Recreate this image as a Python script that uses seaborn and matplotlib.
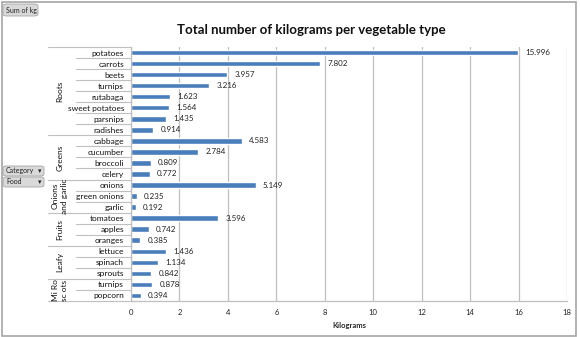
import matplotlib
matplotlib.use("Agg")
import matplotlib.pyplot as plt
import seaborn as sns
import pandas as pd
from matplotlib.patches import Rectangle, FancyBboxPatch
import matplotlib.transforms as mtransforms

groups = ["Roots", "Greens", "Onions\nand garlic", "Fruits", "Leafy", "Mi Ro\nsc ots"]
group_sizes = [8, 4, 3, 3, 3, 2]
foods = ["potatoes", "carrots", "beets", "turnips", "rutabaga", "sweet potatoes", "parsnips", "radishes",
         "cabbage", "cucumber", "broccoli", "celery",
         "onions", "green onions", "garlic",
         "tomatoes", "apples", "oranges",
         "lettuce", "spinach", "sprouts",
         "turnips", "popcorn"]
kg = [15.996, 7.802, 3.957, 3.216, 1.623, 1.564, 1.435, 0.914,
      4.583, 2.784, 0.809, 0.772,
      5.149, 0.235, 0.192,
      3.596, 0.742, 0.385,
      1.436, 1.134, 0.842,
      0.878, 0.394]
x_ticks = [0, 2, 4, 6, 8, 10, 12, 14, 16, 18]

sns.set_style("white")
plt.rcParams["font.family"] = ["Lato", "DejaVu Sans"]

W, H = 580, 337
fig = plt.figure(figsize=(W / 100, H / 100), dpi=100)
ax = fig.add_axes([131 / W, 1 - 301 / H, (567 - 131) / W, (301 - 47) / H])

keys = [f"{i}" for i in range(len(foods))]
df = pd.DataFrame({"key": keys, "kg": kg})
sns.barplot(data=df, x="kg", y="key", order=keys, color="#4A7EBB", saturation=1,
            width=0.5, ax=ax, orient="h")

ax.set_xlim(0, 18)
ax.set_ylim(len(foods) - 0.5, -0.5)
ax.set_xticks(x_ticks)
ax.set_xticklabels([str(t) for t in x_ticks], fontsize=5.5, color="#222222")
ax.tick_params(axis="x", length=0, pad=6)
ax.set_yticks(range(len(foods)))
ax.set_yticklabels(foods, fontsize=6, color="#111111")
ax.tick_params(axis="y", length=0, pad=5)
ax.set_ylabel("")
ax.set_xlabel("Kilograms", fontsize=5.5, fontweight="bold", labelpad=4)
ax.xaxis.grid(True, color="#BFBFBF", linewidth=0.9)
ax.set_axisbelow(True)
for s in ["top", "right"]:
    ax.spines[s].set_visible(False)
for s in ["left", "bottom"]:
    ax.spines[s].set_color("#BFBFBF")
    ax.spines[s].set_linewidth(0.9)

for i, v in enumerate(kg):
    ax.text(v + 0.3, i, f"{v:.3f}", va="center", ha="left", fontsize=5.8, color="#222222")

trans = mtransforms.blended_transform_factory(ax.transAxes, ax.transData)
x_item = (76 - 131) / 436
x_group = (48 - 131) / 436
boundaries = [0]
for gsz in group_sizes:
    boundaries.append(boundaries[-1] + gsz)
for i in range(len(foods) + 1):
    x0 = x_group if i in boundaries else x_item
    ax.plot([x0, 0], [i - 0.5, i - 0.5], transform=trans, color="#BFBFBF",
            linewidth=0.8, clip_on=False)
for g, start, end in zip(groups, boundaries[:-1], boundaries[1:]):
    ax.text(-0.163, (start + end - 1) / 2, g, transform=trans, rotation=90,
            ha="center", va="center", fontsize=6, color="#111111", linespacing=1.3)

fig.text(311 / W, 1 - 30 / H, "Total number of kilograms per vegetable type",
         ha="center", va="center", fontsize=9.5, fontweight="bold", color="#111111")


def button(x0, y0, x1, y1, label, arrow):
    p = FancyBboxPatch((x0 / W, 1 - y1 / H), (x1 - x0) / W, (y1 - y0) / H,
                       boxstyle="round,pad=0,rounding_size=0.006", transform=fig.transFigure,
                       fc="#D9D9D9", ec="#A6A6A6", lw=0.6)
    fig.patches.append(p)
    fig.text((x0 + 3) / W, 1 - (y0 + y1) / 2 / H, label, fontsize=5, va="center", ha="left",
             color="#222222")
    if arrow:
        fig.text((x1 - 3) / W, 1 - (y0 + y1) / 2 / H, "▾", fontsize=5, va="center", ha="right",
                 color="#222222", family="DejaVu Sans")


button(3, 4, 38, 16, "Sum of kg", False)
button(3, 166, 44, 176, "Category", True)
button(3, 177, 44, 187, "Food", True)

fig.patches.append(Rectangle((1.5 / W, 1.5 / H), (576 - 1.5) / W, (335 - 1.5) / H,
                             transform=fig.transFigure, fill=False, ec="#A6A6A6", lw=1.2))

fig.savefig("out.png", dpi=100)
